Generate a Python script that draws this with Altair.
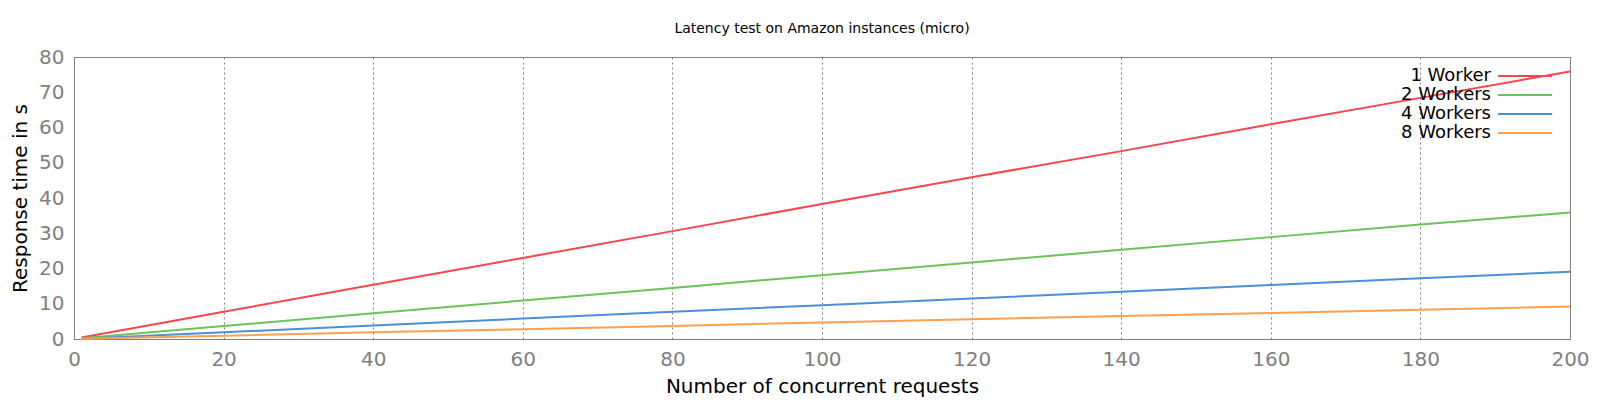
import altair as alt
import pandas as pd

requests = [1, 20, 40, 60, 80, 100, 120, 140, 160, 180, 200]
w1 = [0.4, 7.7, 15.4, 23.0, 30.6, 38.3, 45.9, 53.3, 60.9, 68.4, 75.9]
w2 = [0.2, 3.7, 7.3, 10.9, 14.5, 18.1, 21.7, 25.3, 28.9, 32.5, 35.9]
w4 = [0.1, 1.9, 3.8, 5.8, 7.7, 9.6, 11.5, 13.4, 15.3, 17.2, 19.1]
w8 = [0.05, 0.9, 1.9, 2.8, 3.7, 4.7, 5.6, 6.5, 7.4, 8.3, 9.2]
series = ["1 Worker", "2 Workers", "4 Workers", "8 Workers"]
colors = ["#f8464f", "#6cc35a", "#4a90d9", "#ffa04f"]

rows = []
for name, vals in zip(series, [w1, w2, w4, w8]):
    for x, y in zip(requests, vals):
        rows.append({"requests": x, "time": y, "series": name})
df = pd.DataFrame(rows)

chart = alt.Chart(df).mark_line(strokeWidth=2).encode(
    x=alt.X("requests:Q", scale=alt.Scale(domain=[0, 200], nice=False),
            axis=alt.Axis(title="Number of concurrent requests", values=list(range(0, 201, 20)),
                          grid=True, gridDash=[2, 3], gridColor="#808080", gridOpacity=1,
                          ticks=False, domain=False, labelFlush=False,
                          labelPadding=10, titlePadding=7)),
    y=alt.Y("time:Q", scale=alt.Scale(domain=[0, 80], nice=False),
            axis=alt.Axis(title="Response time in s", values=list(range(0, 81, 10)),
                          grid=False, ticks=False, domain=False, labelPadding=10, titlePadding=8)),
    color=alt.Color("series:N", scale=alt.Scale(domain=series, range=colors),
                    legend=alt.Legend(orient="none", legendX=1397, legendY=9, title=None,
                                      symbolType="M1.9,0H7.9", symbolSize=324,
                                      symbolStrokeWidth=2, labelAlign="right",
                                      labelOffset=0, labelFontSize=18, labelColor="black",
                                      labelFont="DejaVu Sans", rowPadding=0, padding=0)),
).properties(
    width=1496, height=282,
    title=alt.TitleParams("Latency test on Amazon instances (micro)", fontSize=14,
                          font="DejaVu Sans", fontWeight="normal", anchor="middle", offset=11),
    autosize=alt.AutoSizeParams(type="none"),
    padding={"left": 66, "top": 49, "right": 22, "bottom": 60},
).configure_view(
    stroke="#808080", strokeWidth=1
).configure_axis(
    labelFont="DejaVu Sans", labelFontSize=20, labelColor="#808080",
    titleFont="DejaVu Sans", titleFontSize=20, titleColor="black", titleFontWeight="normal"
)

chart.save("out.html", embed_options={"renderer": "svg", "actions": False})
